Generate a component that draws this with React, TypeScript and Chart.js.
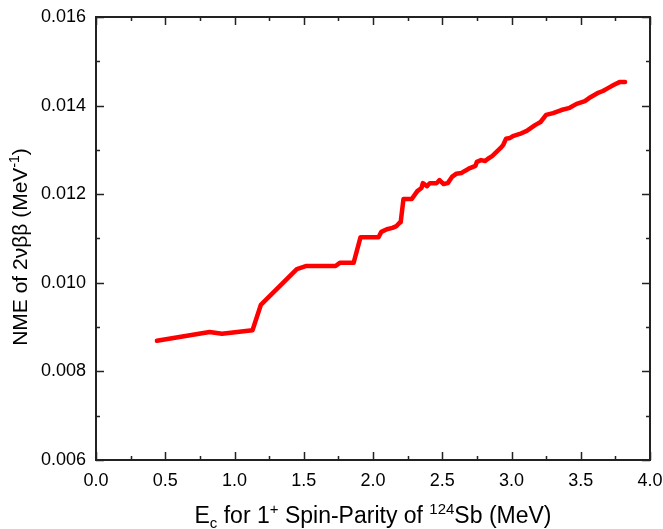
import React, { useEffect, useRef } from "react";
import { Chart, registerables } from "chart.js";

Chart.register(...registerables);

const energies = [0.44, 0.82, 0.91, 1.13, 1.19, 1.45, 1.52, 1.73, 1.76, 1.86, 1.91, 2.04, 2.06, 2.1, 2.14, 2.17, 2.19, 2.2, 2.22, 2.28, 2.32, 2.35, 2.36, 2.39, 2.41, 2.46, 2.48, 2.51, 2.54, 2.57, 2.6, 2.64, 2.66, 2.7, 2.74, 2.75, 2.78, 2.81, 2.83, 2.86, 2.92, 2.94, 2.96, 2.99, 3.01, 3.06, 3.11, 3.17, 3.21, 3.25, 3.3, 3.36, 3.42, 3.47, 3.53, 3.57, 3.62, 3.66, 3.7, 3.74, 3.78, 3.82];
const nmeValues = [0.00869, 0.00889, 0.00885, 0.00893, 0.0095, 0.01031, 0.01038, 0.01038, 0.01045, 0.01045, 0.01103, 0.01103, 0.01115, 0.01121, 0.01124, 0.01128, 0.01135, 0.01137, 0.01189, 0.01189, 0.01207, 0.01214, 0.01225, 0.01218, 0.01225, 0.01225, 0.01232, 0.01223, 0.01225, 0.01239, 0.01246, 0.01248, 0.01252, 0.01259, 0.01264, 0.01273, 0.01277, 0.01275, 0.0128, 0.01286, 0.01304, 0.01311, 0.01325, 0.01327, 0.01331, 0.01336, 0.01343, 0.01356, 0.01363, 0.01379, 0.01383, 0.0139, 0.01395, 0.01404, 0.0141, 0.01419, 0.01428, 0.01433, 0.0144, 0.01447, 0.01453, 0.01453];

const xMin = 0, xMax = 4.0, xStep = 0.5;
const yMin = 0.006, yMax = 0.016, yStep = 0.002;

type Seg = { t: string; k: "n" | "sub" | "sup" };
const xTitle: Seg[] = [
  { t: "E", k: "n" }, { t: "c", k: "sub" }, { t: " for 1", k: "n" }, { t: "+", k: "sup" },
  { t: " Spin-Parity of ", k: "n" }, { t: "124", k: "sup" }, { t: "Sb (MeV)", k: "n" },
];
const yTitle: Seg[] = [
  { t: "NME of 2νββ (MeV", k: "n" }, { t: "-1", k: "sup" }, { t: ")", k: "n" },
];

const FONT = "'Liberation Sans', Arial, sans-serif";

function drawRich(ctx: CanvasRenderingContext2D, segs: Seg[], cx: number, baseY: number, size: number) {
  const small = Math.round(size * 0.65);
  const widths = segs.map((s) => {
    ctx.font = `${s.k === "n" ? size : small}px ${FONT}`;
    return ctx.measureText(s.t).width;
  });
  const total = widths.reduce((a, b) => a + b, 0);
  let x = cx - total / 2;
  ctx.textBaseline = "alphabetic";
  ctx.textAlign = "left";
  segs.forEach((s, i) => {
    ctx.font = `${s.k === "n" ? size : small}px ${FONT}`;
    let y = baseY;
    if (s.k === "sup") y = baseY - size * 0.4;
    if (s.k === "sub") y = baseY + size * 0.22;
    ctx.fillText(s.t, x, y);
    x += widths[i];
  });
}

const framePlugin = {
  id: "frame",
  afterDraw(chart: any) {
    const { ctx, chartArea: a, scales } = chart;
    const xs = scales.x, ys = scales.y;
    ctx.save();
    ctx.strokeStyle = "#222";
    ctx.lineWidth = 2;
    ctx.strokeRect(a.left, a.top, a.right - a.left, a.bottom - a.top);
    ctx.lineWidth = 1.5;
    ctx.beginPath();
    for (let v = xMin; v <= xMax + 1e-9; v += xStep / 2) {
      const major = Math.abs(v / xStep - Math.round(v / xStep)) < 1e-6;
      const L = major ? 8 : 4;
      const px = Math.round(xs.getPixelForValue(v)) + 0.5;
      ctx.moveTo(px, a.bottom); ctx.lineTo(px, a.bottom - L);
      ctx.moveTo(px, a.top); ctx.lineTo(px, a.top + L);
    }
    for (let v = yMin; v <= yMax + 1e-9; v += yStep / 2) {
      const major = Math.abs(v / yStep - Math.round(v / yStep)) < 1e-6;
      const L = major ? 8 : 4;
      const py = Math.round(ys.getPixelForValue(v)) + 0.5;
      ctx.moveTo(a.left, py); ctx.lineTo(a.left + L, py);
      ctx.moveTo(a.right, py); ctx.lineTo(a.right - L, py);
    }
    ctx.stroke();
    ctx.fillStyle = "#000";
    drawRich(ctx, xTitle, (a.left + a.right) / 2, 523, 23);
    ctx.translate(27, 247);
    ctx.rotate(-Math.PI / 2);
    drawRich(ctx, yTitle, 0, 0, 21);
    ctx.restore();
  },
};

export default function App() {
  const ref = useRef<HTMLCanvasElement>(null);
  useEffect(() => {
    document.body.style.margin = "0";
    const chart = new Chart(ref.current!, {
      type: "scatter",
      data: {
        datasets: [
          {
            data: energies.map((x, i) => ({ x, y: nmeValues[i] })),
            showLine: true,
            borderColor: "#ff0000",
            backgroundColor: "#ff0000",
            borderWidth: 4.5,
            pointRadius: 0,
            tension: 0,
            borderJoinStyle: "round",
            borderCapStyle: "round",
          } as any,
        ],
      },
      options: {
        animation: false,
        responsive: false,
        layout: { padding: { top: 17, right: 13, left: 0, bottom: 0 } },
        plugins: { legend: { display: false }, tooltip: { enabled: false } },
        scales: {
          x: {
            type: "linear",
            min: xMin,
            max: xMax,
            border: { display: false },
            grid: { display: false, drawTicks: false },
            ticks: {
              stepSize: xStep,
              color: "#000",
              padding: 10,
              font: { family: FONT, size: 18 },
              callback: (v: any) => Number(v).toFixed(1),
            },
            afterFit: (s: any) => { s.height = 69; s.paddingLeft = 0; s.paddingRight = 0; },
          },
          y: {
            type: "linear",
            min: yMin,
            max: yMax,
            border: { display: false },
            grid: { display: false, drawTicks: false },
            ticks: {
              stepSize: yStep,
              color: "#000",
              padding: 10,
              font: { family: FONT, size: 18 },
              callback: (v: any) => Number(v).toFixed(3),
            },
            afterFit: (s: any) => { s.width = 96; s.paddingTop = 0; s.paddingBottom = 0; },
          },
        },
      },
      plugins: [framePlugin],
    });
    return () => chart.destroy();
  }, []);
  return <canvas ref={ref} width={663} height={529} style={{ display: "block" }} />;
}
